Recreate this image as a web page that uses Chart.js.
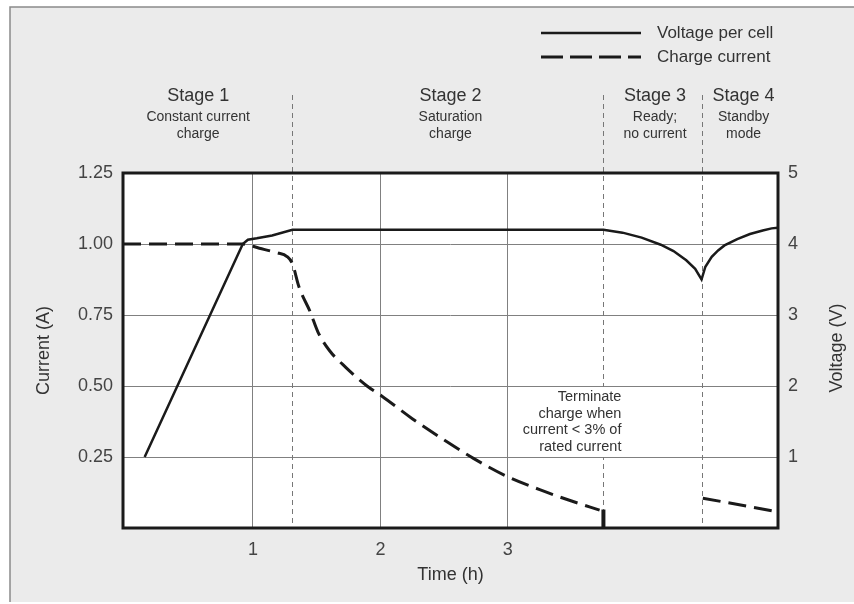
<!DOCTYPE html>
<html>
<head>
<meta charset="utf-8">
<script src="https://cdn.jsdelivr.net/npm/chart.js@4.4.1/dist/chart.umd.min.js"></script>
<style>
  html, body { margin: 0; padding: 0; background: #fff; }
  #wrap { width: 854px; height: 604px; }
</style>
</head>
<body>
<div id="wrap"><canvas id="myChart" width="854" height="604"></canvas></div>
<script>
// voltage per cell (right axis, V)
const voltTime = [0.15, 0.92, 0.96, 1.03, 1.15, 1.31, 2.0, 3.0, 3.75, 3.9, 4.05, 4.2, 4.3, 4.4, 4.47, 4.52, 4.55, 4.6, 4.65, 4.7, 4.8, 4.9, 5.0, 5.07, 5.12];
const voltValues = [1.0, 4.0, 4.06, 4.08, 4.12, 4.2, 4.2, 4.2, 4.2, 4.16, 4.09, 3.99, 3.9, 3.77, 3.65, 3.5, 3.68, 3.82, 3.91, 3.98, 4.07, 4.14, 4.19, 4.22, 4.23];

// charge current (left axis, A) - stages 1 and 2
const curTime = [-0.02, 0.92, 1.05, 1.18, 1.27, 1.31, 1.36, 1.45, 1.51, 1.6, 1.73, 1.895, 2.01, 2.25, 2.5, 2.73, 3.0, 3.25, 3.5, 3.72];
const curValues = [1.0, 1.0, 0.985, 0.97, 0.955, 0.93, 0.85, 0.76, 0.69, 0.625, 0.565, 0.5, 0.465, 0.385, 0.31, 0.245, 0.18, 0.135, 0.095, 0.063];

// cut-off at end of stage 2
const cutTime = [3.75, 3.75];
const cutValues = [0, 0.065];

// stage 4 top-up current
const standbyTime = [4.53, 5.12];
const standbyValues = [0.105, 0.057];

const timeTicks = [1, 2, 3];
const currentTicks = [0.25, 0.5, 0.75, 1.0, 1.25];
const voltTicks = [1, 2, 3, 4, 5];

// stage boundaries (h) and labels
const stageBounds = [1.31, 3.75, 4.52];
const stageNames = ["Stage 1", "Stage 2", "Stage 3", "Stage 4"];
const stageNotes = [["Constant current", "charge"], ["Saturation", "charge"], ["Ready;", "no current"], ["Standby", "mode"]];
const stageCenters = [0.57, 2.55, 4.155, 4.85];
const noteLines = ["Terminate", "charge when", "current < 3% of", "rated current"];

const FONT = "'Liberation Sans', Arial, sans-serif";

function pts(xs, ys) {
  return xs.map((x, i) => ({ x: x, y: ys[i] }));
}

const framePlugin = {
  id: "frame",
  beforeDraw(chart) {
    const c = chart.ctx;
    const a = chart.chartArea;
    c.save();
    c.fillStyle = "#fff";
    c.fillRect(0, 0, chart.width, chart.height);
    c.fillStyle = "#ebebeb";
    c.fillRect(10, 7, chart.width - 10, chart.height - 9);
    c.strokeStyle = "#8a8a8a";
    c.lineWidth = 1.5;
    c.beginPath();
    c.moveTo(10, chart.height - 2);
    c.lineTo(10, 7);
    c.lineTo(chart.width, 7);
    c.stroke();
    c.fillStyle = "#fff";
    c.fillRect(a.left, a.top, a.right - a.left, a.bottom - a.top);
    c.restore();
  },
  beforeDatasetsDraw(chart) {
    const c = chart.ctx;
    const xs = chart.scales.x;
    c.save();
    c.strokeStyle = "#777";
    c.lineWidth = 1;
    c.setLineDash([5, 4]);
    stageBounds.forEach(b => {
      const px = Math.round(xs.getPixelForValue(b)) + 0.5;
      c.beginPath();
      c.moveTo(px, 95);
      c.lineTo(px, chart.chartArea.bottom);
      c.stroke();
    });
    c.restore();

    // terminate note (white box hides the dashed line behind it)
    c.save();
    c.font = "14.5px " + FONT;
    c.textAlign = "right";
    c.textBaseline = "middle";
    const nx = xs.getPixelForValue(3.75) + 18;
    const w = Math.max(...noteLines.map(t => c.measureText(t).width));
    c.fillStyle = "#fff";
    c.fillRect(nx - w - 2, 387, w + 4, 70);
    c.fillStyle = "#333";
    noteLines.forEach((t, i) => c.fillText(t, nx, 397 + i * 16.7));
    c.restore();
  },
  afterDatasetsDraw(chart) {
    const c = chart.ctx;
    const a = chart.chartArea;
    c.save();
    c.strokeStyle = "#1a1a1a";
    c.lineWidth = 3;
    c.strokeRect(a.left, a.top, a.right - a.left, a.bottom - a.top);
    c.restore();
  },
  afterDraw(chart) {
    const c = chart.ctx;
    const xs = chart.scales.x;
    c.save();
    c.fillStyle = "#333";
    c.textAlign = "center";
    c.textBaseline = "middle";
    stageNames.forEach((s, i) => {
      const px = xs.getPixelForValue(stageCenters[i]);
      c.font = "18px " + FONT;
      c.fillText(s, px, 96);
      c.font = "14px " + FONT;
      c.fillText(stageNotes[i][0], px, 117);
      c.fillText(stageNotes[i][1], px, 134);
    });

    // right axis title
    c.font = "18px " + FONT;
    c.translate(837, 348);
    c.rotate(-Math.PI / 2);
    c.fillText("Voltage (V)", 0, 0);
    c.restore();

    // legend
    c.save();
    const ds = chart.data.datasets;
    [0, 1].forEach((k, i) => {
      const y = 33 + i * 24;
      c.strokeStyle = "#1a1a1a";
      c.lineWidth = ds[k].borderWidth;
      c.setLineDash(k === 1 ? [22, 7] : []);
      c.beginPath();
      c.moveTo(541, y);
      c.lineTo(641, y);
      c.stroke();
      c.fillStyle = "#333";
      c.font = "17px " + FONT;
      c.textAlign = "left";
      c.textBaseline = "middle";
      c.fillText(ds[k].label, 657, y);
    });
    c.restore();
  }
};

const ctx = document.getElementById("myChart");
new Chart(ctx, {
  type: "line",
  data: {
    datasets: [
      {
        label: "Voltage per cell",
        data: pts(voltTime, voltValues),
        yAxisID: "y2",
        borderColor: "#1a1a1a",
        borderWidth: 2.5,
        pointRadius: 0,
        tension: 0,
      },
      {
        label: "Charge current",
        data: pts(curTime, curValues),
        yAxisID: "y",
        borderColor: "#1a1a1a",
        borderWidth: 3,
        borderDash: [18, 8],
        pointRadius: 0,
        cubicInterpolationMode: "monotone",
      },
      {
        label: "cutoff",
        data: pts(cutTime, cutValues),
        yAxisID: "y",
        borderColor: "#1a1a1a",
        borderWidth: 4,
        pointRadius: 0,
      },
      {
        label: "standby",
        data: pts(standbyTime, standbyValues),
        yAxisID: "y",
        borderColor: "#1a1a1a",
        borderWidth: 3,
        borderDash: [18, 8],
        pointRadius: 0,
      },
    ],
  },
  options: {
    responsive: false,
    animation: false,
    devicePixelRatio: 1,
    layout: { padding: { top: 173, left: 0, right: 0, bottom: 0 } },
    plugins: { legend: { display: false }, tooltip: { enabled: false } },
    scales: {
      x: {
        type: "linear",
        min: -0.02,
        max: 5.12,
        afterBuildTicks: s => { s.ticks = timeTicks.map(v => ({ value: v })); },
        afterFit: s => { s.height = 76; },
        grid: { color: "#808080", lineWidth: 1, drawTicks: false },
        border: { display: false },
        ticks: { color: "#444", font: { family: FONT, size: 18 }, padding: 11 },
        title: { display: true, text: "Time (h)", color: "#333", font: { family: FONT, size: 18 }, padding: { top: 0, bottom: 18 } },
      },
      y: {
        position: "left",
        min: 0,
        max: 1.25,
        afterBuildTicks: s => { s.ticks = currentTicks.map(v => ({ value: v })); },
        afterFit: s => { s.width = 123; },
        grid: { color: "#808080", lineWidth: 1, drawTicks: false },
        border: { display: false },
        ticks: { color: "#444", font: { family: FONT, size: 18 }, padding: 10, callback: v => v.toFixed(2) },
        title: { display: true, text: "Current (A)", color: "#333", font: { family: FONT, size: 18 }, padding: { top: 33, bottom: 0 } },
      },
      y2: {
        position: "right",
        min: 0,
        max: 5,
        afterBuildTicks: s => { s.ticks = voltTicks.map(v => ({ value: v })); },
        afterFit: s => { s.width = 76; },
        grid: { display: false, drawTicks: false },
        border: { display: false },
        ticks: { color: "#444", font: { family: FONT, size: 18 }, padding: 10 },
      },
    },
  },
  plugins: [framePlugin],
});
</script>
</body>
</html>
